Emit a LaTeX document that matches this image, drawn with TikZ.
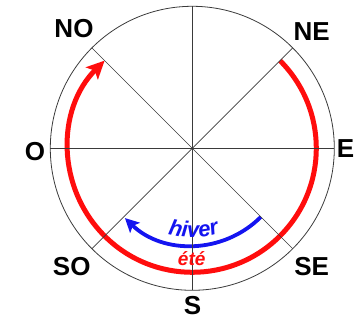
\documentclass[tikz,border=0pt]{standalone}
\usepackage{fontspec}
\setmainfont{Liberation Sans}
\usepackage{xcolor}
\usepackage{tikz}
\usetikzlibrary{arrows.meta,decorations.text}
\definecolor{linec}{HTML}{3A3A3A}
\definecolor{summc}{HTML}{FF0D0D}
\definecolor{wintc}{HTML}{1414F0}
\tikzset{
  spoke/.style={linec,line width=0.6pt},
  dirlab/.style={font=\fontsize{26}{26}\selectfont\bfseries,inner sep=0pt},
  summarc/.style={summc,line width=5pt,-{Stealth[length=18pt,width=17pt,inset=4pt]}},
  wintarc/.style={wintc,line width=3.8pt,-{Stealth[length=14pt,width=14pt,inset=3pt]}},
  seaslab/.style={inner sep=0pt,anchor=base,font=\fontsize{#1}{#1}\selectfont\bfseries\itshape}
}
\begin{document}
\begin{tikzpicture}[x=1pt,y=1pt]
\useasboundingbox (-192.3,-171.7) rectangle (165.7,148.3);
\coordinate (ctr) at (0,0);
% saisons
\draw[summarc] (45:124) arc[start angle=45,end angle=-225,radius=124];
\draw[wintarc] (-45:97) arc[start angle=-45,end angle=-134,radius=97];
% rose des vents
\draw[linec,line width=0.8pt] (ctr) circle (142);
\foreach \a in {0,45,...,315}{\draw[spoke] (ctr) -- (\a:142);}
\fill[linec] (ctr) circle (1.2);
\node[dirlab] (no) at (-118.3,119.8) {NO};
\node[dirlab] (ne) at (119.4,116.6) {NE};
\node[dirlab] (o) at (-157.3,-3.4) {O};
\node[dirlab] (e) at (153.2,-0.4) {E};
\node[dirlab] (so) at (-120.6,-118.4) {SO};
\node[dirlab] (se) at (119.4,-118.4) {SE};
\node[dirlab] (s) at (0.2,-157.2) {S};
\path[decorate,decoration={text along path,text align=center,
  text={|\fontsize{22}{22}\selectfont\bfseries\itshape\color{wintc}|hiver}}]
  (-118:89) arc[start angle=-118,end angle=-60,radius=89];
\node[seaslab=19,summc] (ete) at (-0.6,-117.4) {été};
\end{tikzpicture}
\end{document}
